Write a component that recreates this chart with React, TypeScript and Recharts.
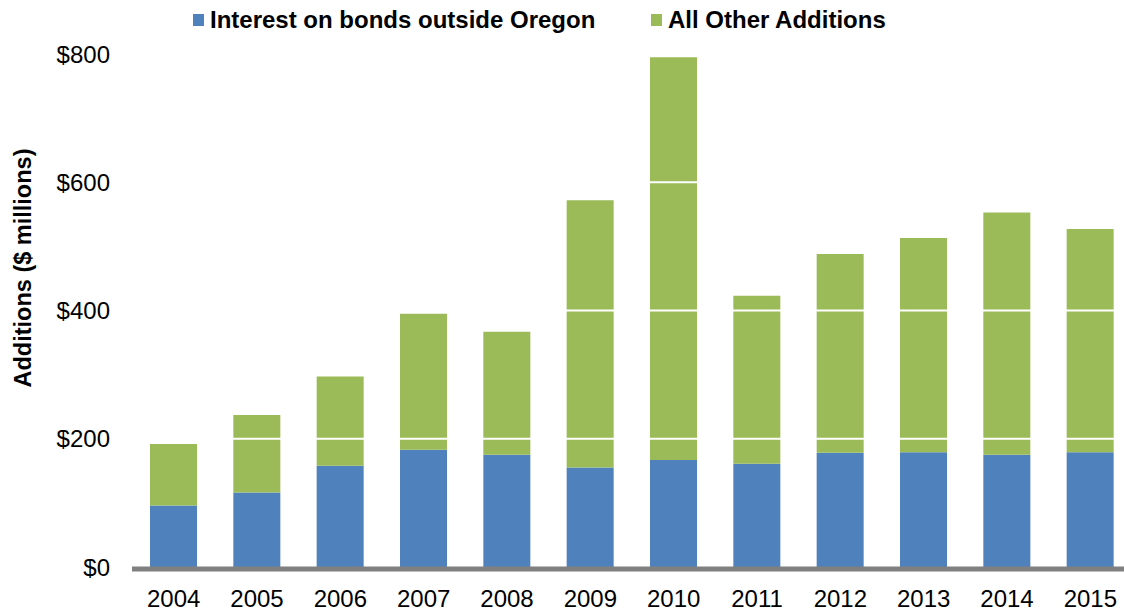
import { Bar, BarChart, ReferenceLine, XAxis, YAxis } from "recharts"

const years = ["2004", "2005", "2006", "2007", "2008", "2009", "2010", "2011", "2012", "2013", "2014", "2015"]
const interestOutside = [96, 116, 158, 183, 175, 155, 167, 161, 178, 179, 175, 179]
const otherAdditions = [96, 121, 139, 212, 192, 417, 628, 262, 310, 334, 378, 348]
const yTicks = [0, 200, 400, 600, 800]
const gridLines = [200, 400, 600]

const data = years.map((year, i) => ({
  year,
  interest: interestOutside[i],
  other: otherAdditions[i],
}))

const font = "'Liberation Sans', Arial, sans-serif"

const legendItems = [
  { label: "Interest on bonds outside Oregon", color: "#4F81BD", left: 193 },
  { label: "All Other Additions", color: "#9BBB59", left: 651 },
]

// legend sits above the plot, drawn as plain html so it takes no room from the chart
function TopLegend() {
  return (
    <div style={{ position: "absolute", left: 0, top: 0, width: 1124, height: 40, zIndex: 2 }}>
      {legendItems.map((item) => (
        <div
          key={item.label}
          style={{ position: "absolute", left: item.left, top: 6, display: "flex", alignItems: "center" }}
        >
          <span style={{ width: 11, height: 12, background: item.color, marginRight: 6, display: "inline-block" }} />
          <span style={{ fontFamily: font, fontWeight: "bold", fontSize: 24, color: "#000" }}>{item.label}</span>
        </div>
      ))}
    </div>
  )
}

export default function App() {
  return (
    <div style={{ position: "fixed", left: 0, top: 0, width: 1124, height: 611, overflow: "hidden", background: "#fff" }}>
      <TopLegend />
      <BarChart
        width={1132}
        height={611}
        data={data}
        margin={{ top: 54, right: 0, bottom: 0, left: 0 }}
      >
        <XAxis
          dataKey="year"
          height={44}
          tickLine={false}
          tickSize={0}
          tickMargin={23}
          axisLine={{ stroke: "#808080", strokeWidth: 5, transform: "translate(0, 2)" }}
          tick={{ fill: "#000", fontSize: 24, fontFamily: font }}
          interval={0}
        />
        <YAxis
          width={132}
          domain={[0, 800]}
          ticks={yTicks}
          tickFormatter={(v) => `$${v}`}
          axisLine={false}
          tickLine={false}
          tickSize={0}
          tickMargin={22}
          tick={{ fill: "#000", fontSize: 24, fontFamily: font }}
          label={{
            content: () => (
              <text
                x={23}
                y={268}
                transform="rotate(-90 23 268)"
                textAnchor="middle"
                dominantBaseline="central"
                fontFamily={font}
                fontWeight="bold"
                fontSize={23.5}
                fill="#000"
              >
                Additions ($ millions)
              </text>
            ),
          }}
        />
        <Bar dataKey="interest" name="Interest on bonds outside Oregon" stackId="a" fill="#4F81BD" barSize={47} isAnimationActive={false} />
        <Bar dataKey="other" name="All Other Additions" stackId="a" fill="#9BBB59" barSize={47} isAnimationActive={false} />
        {gridLines.map((v) => (
          <ReferenceLine key={v} y={v} stroke="#ffffff" strokeWidth={2} />
        ))}
      </BarChart>
    </div>
  )
}
